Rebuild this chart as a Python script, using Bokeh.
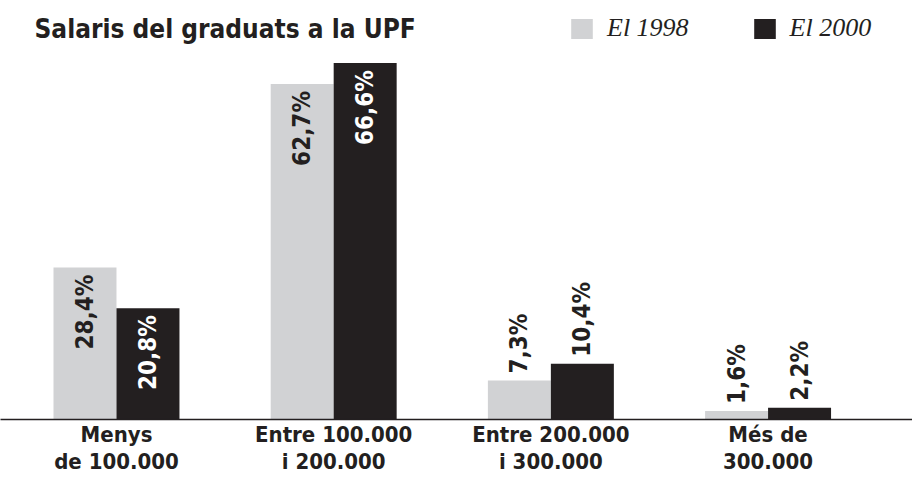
import math
from bokeh.plotting import figure
from bokeh.models import ColumnDataSource, FixedTicker, Range1d, Label, Legend, LegendItem
from bokeh.embed import file_html
from bokeh.resources import INLINE
from bokeh.core.properties import value

# ---- data ----
categories = ["Menys\nde 100.000", "Entre 100.000\ni 200.000",
              "Entre 200.000\ni 300.000", "Més de\n300.000"]
series_names = ["El 1998", "El 2000"]
values_1998 = [28.4, 62.7, 7.3, 1.6]
values_2000 = [20.8, 66.6, 10.4, 2.2]
title_text = "Salaris del graduats a la UPF"

# ---- style ----
LIGHT = "#d1d2d4"
DARK = "#231f20"
FONT = "DejaVu Sans Condensed, Roboto"
W, H = 912, 477
BAR_W = 0.29
INSIDE_MIN = 15

p = figure(width=W, height=H, output_backend="svg", toolbar_location=None,
           x_range=Range1d(-0.534, 3.665), y_range=Range1d(0, 78.3),
           y_axis_location=None, min_border_left=0, min_border_right=0,
           min_border_top=0, min_border_bottom=0)
p.outline_line_color = None
p.xgrid.grid_line_color = None
p.ygrid.grid_line_color = None
p.background_fill_color = "white"

xs = list(range(len(categories)))
renderers = []
for k, (vals, col, shift) in enumerate([(values_1998, LIGHT, -BAR_W / 2), (values_2000, DARK, BAR_W / 2)]):
    src = ColumnDataSource(dict(x=[x + shift for x in xs], top=vals))
    r = p.vbar(x="x", top="top", width=BAR_W, bottom=0, source=src,
               fill_color=col, line_color=None)
    renderers.append(r)

    labels = [f"{v:.1f}".replace(".", ",") + "%" for v in vals]
    inside = [i for i, v in enumerate(vals) if v > INSIDE_MIN]
    outside = [i for i, v in enumerate(vals) if v <= INSIDE_MIN]
    in_color = DARK if k == 0 else "white"
    if inside:
        s_in = ColumnDataSource(dict(x=[xs[i] + shift for i in inside],
                                     y=[vals[i] for i in inside],
                                     t=[labels[i] for i in inside]))
        p.text(x="x", y="y", text="t", source=s_in, angle=math.pi / 2,
               text_align="right", text_baseline="middle", y_offset=7,
               text_font=value(FONT), text_font_style="bold",
               text_font_size="24px", text_color=in_color)
    if outside:
        s_out = ColumnDataSource(dict(x=[xs[i] + shift for i in outside],
                                      y=[vals[i] for i in outside],
                                      t=[labels[i] for i in outside]))
        p.text(x="x", y="y", text="t", source=s_out, angle=math.pi / 2,
               text_align="left", text_baseline="middle", y_offset=-7,
               text_font=value(FONT), text_font_style="bold",
               text_font_size="24px", text_color=DARK)

# x axis
ax = p.xaxis[0]
ax.ticker = FixedTicker(ticks=xs)
ax.major_label_overrides = {x: c for x, c in zip(xs, categories)}
ax.major_tick_line_color = None
ax.minor_tick_line_color = None
ax.major_tick_out = 0
ax.major_tick_in = 0
ax.major_label_standoff = 2
ax.axis_line_color = DARK
ax.axis_line_width = 1.5
ax.major_label_text_font = FONT
ax.major_label_text_font_style = "bold"
ax.major_label_text_font_size = "22px"
ax.major_label_text_color = DARK
ax.major_label_text_line_height = 1.1

# legend
legend = Legend(items=[LegendItem(label=n, renderers=[r]) for n, r in zip(series_names, renderers)],
                orientation="horizontal", location=(568, 376),
                glyph_width=27, glyph_height=25, label_standoff=12, spacing=62,
                padding=0, margin=0, border_line_alpha=0, background_fill_alpha=0,
                label_text_font="Liberation Serif", label_text_font_style="italic",
                label_text_font_size="26px", label_text_color=DARK)
p.add_layout(legend)

# title
p.add_layout(Label(x=34, y=406, x_units="screen", y_units="screen", text=title_text,
                   text_font=FONT, text_font_style="bold", text_font_size="26px",
                   text_color=DARK, text_baseline="top"))

open("out.html", "w").write(file_html(p, INLINE))
